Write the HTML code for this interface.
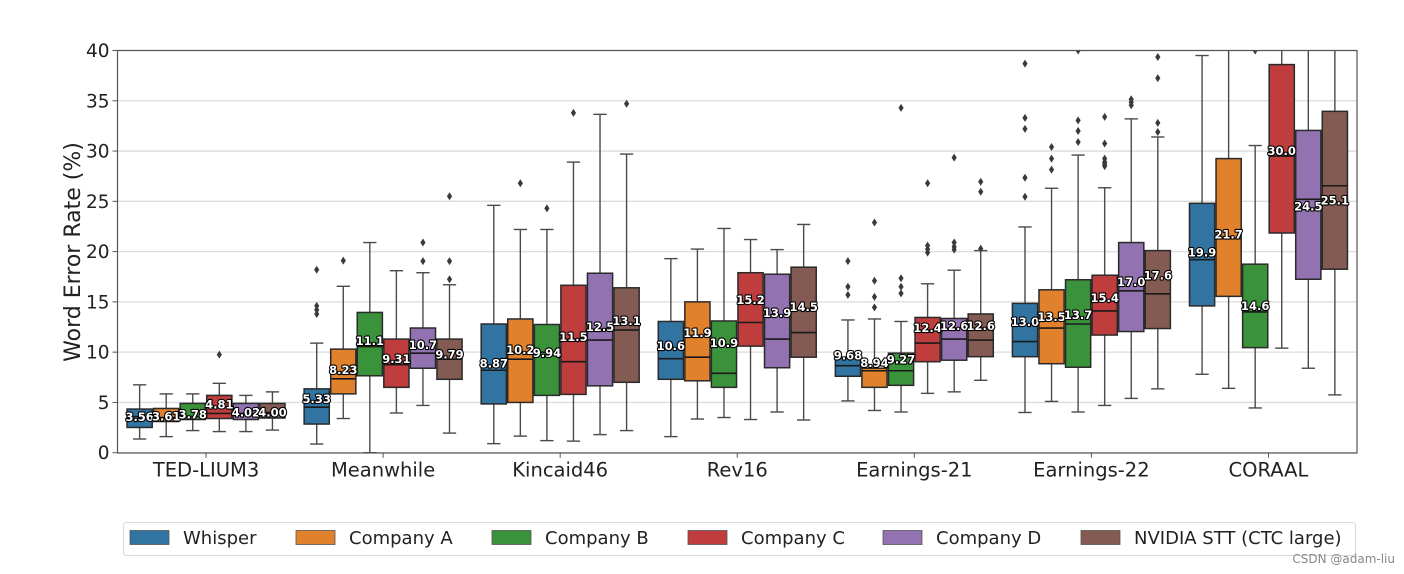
<!DOCTYPE html>
<html><head><meta charset="utf-8"><style>
html,body{margin:0;padding:0;background:#fff;}
svg{display:block;font-family:"DejaVu Sans","Liberation Sans",sans-serif;}
</style></head><body>
<svg id="chart" width="1404" height="574" viewBox="0 0 1404 574" xmlns="http://www.w3.org/2000/svg">
<defs><clipPath id="plotclip"><rect x="118" y="50.5" width="1239" height="402.5"/></clipPath></defs>
<g id="grid"></g>
<g id="boxes" clip-path="url(#plotclip)"></g>
<g id="labels"></g>
<rect x="117.5" y="50.5" width="1239.5" height="402.5" fill="none" stroke="#555" stroke-width="1.2"/>
<g id="yaxis"></g>
<g id="xaxis"></g>
<text transform="translate(80,252) rotate(-90)" text-anchor="middle" font-size="22" fill="#222">Word Error Rate (%)</text>
<g id="legend"></g>
<text x="1395" y="563" text-anchor="end" font-size="12" fill="#888">CSDN @adam-liu</text>
</svg>
<script>
const categories = ["TED-LIUM3","Meanwhile","Kincaid46","Rev16","Earnings-21","Earnings-22","CORAAL"];
const seriesNames = ["Whisper","Company A","Company B","Company C","Company D","NVIDIA STT (CTC large)"];
const colors = ["#3274a1","#e1812c","#3a923a","#c03d3e","#9372b2","#845b53"];
const yTicks = [0,5,10,15,20,25,30,35,40];
// per series: [low whisker, q1, median, q3, high whisker] for each category
const whisperStats = [[1.36,2.51,3.6,4.34,6.75],[0.86,2.85,4.53,6.35,10.9],[0.9,4.85,8.2,12.8,24.6],[1.6,7.3,9.35,13.05,19.3],[5.15,7.6,8.65,9.4,13.2],[4.0,9.55,11.05,14.85,22.45],[7.8,14.6,19.2,24.8,39.5]];
const companyAStats = [[1.6,3.1,3.5,4.4,5.85],[3.4,5.85,7.35,10.3,16.55],[1.65,5.0,9.3,13.3,22.2],[3.35,7.15,9.5,15.0,20.25],[4.2,6.5,8.15,8.4,13.3],[5.1,8.85,12.4,16.2,26.3],[6.4,15.55,21.3,29.25,45]];
const companyBStats = [[2.2,3.3,3.6,4.9,5.85],[0,7.65,10.55,13.95,20.9],[1.2,5.7,10.0,12.75,22.2],[3.5,6.5,7.9,13.1,22.3],[4.05,6.7,8.15,9.9,13.05],[4.05,8.5,12.8,17.2,29.6],[4.45,10.45,14.0,18.75,30.55]];
const companyCStats = [[2.1,3.4,3.9,5.7,6.9],[3.95,6.5,8.75,11.3,18.1],[1.15,5.8,9.05,16.65,28.9],[3.3,10.6,12.95,17.9,21.2],[5.9,9.05,10.9,13.45,16.8],[4.7,11.7,14.1,17.65,26.35],[10.4,21.85,29.5,38.6,45]];
const companyDStats = [[2.1,3.3,3.9,4.9,5.7],[4.7,8.4,9.9,12.4,17.9],[1.8,6.65,11.2,17.85,33.65],[4.05,8.45,11.3,17.75,20.2],[6.05,9.2,11.3,13.35,18.15],[5.4,12.05,16.1,20.9,33.2],[8.4,17.25,25.2,32.05,45]];
const nvidiaStats = [[2.25,3.45,4.0,4.9,6.05],[1.95,7.3,9.3,11.3,16.7],[2.2,7.0,12.2,16.4,29.7],[3.25,9.5,11.95,18.45,22.7],[7.2,9.55,11.2,13.8,20.1],[6.35,12.35,15.8,20.1,31.4],[5.75,18.25,26.55,33.95,45]];
const whisperMeans = [3.56,5.33,8.87,10.6,9.68,13.0,19.9];
const companyAMeans = [3.61,8.23,10.2,11.9,8.94,13.5,21.7];
const companyBMeans = [3.78,11.1,9.94,10.9,9.27,13.7,14.6];
const companyCMeans = [4.81,9.31,11.5,15.2,12.4,15.4,30.0];
const companyDMeans = [4.02,10.7,12.5,13.9,12.6,17.0,24.5];
const nvidiaMeans = [4.00,9.79,13.1,14.5,12.6,17.6,25.1];
const meanLabels = [["3.56","5.33","8.87","10.6","9.68","13.0","19.9"],["3.61","8.23","10.2","11.9","8.94","13.5","21.7"],["3.78","11.1","9.94","10.9","9.27","13.7","14.6"],["4.81","9.31","11.5","15.2","12.4","15.4","30.0"],["4.02","10.7","12.5","13.9","12.6","17.0","24.5"],["4.00","9.79","13.1","14.5","12.6","17.6","25.1"]];
const whisperOutliers = [[],[18.2,14.6,14.2,13.8],[],[],[19.05,16.5,15.7],[38.7,33.3,32.2,27.35,25.45],[]];
const companyAOutliers = [[],[19.1],[26.8],[],[22.9,17.1,15.5,14.45],[30.4,29.25,28.15],[]];
const companyBOutliers = [[],[],[24.3],[],[34.3,17.35,16.5,15.85],[40,33.05,32.0,30.9],[40]];
const companyCOutliers = [[9.75],[],[33.8],[],[26.8,20.6,20.25,19.9],[33.4,30.75,29.25,28.9,28.7,28.5],[]];
const companyDOutliers = [[],[20.9,19.05],[],[],[29.35,20.9,20.5,20.2],[35.15,34.85,34.55],[]];
const nvidiaOutliers = [[],[25.5,19.05,17.25],[34.7],[],[26.95,25.95,20.3],[39.35,37.25,32.8,31.9],[]];

const allStats=[whisperStats,companyAStats,companyBStats,companyCStats,companyDStats,nvidiaStats];
const allMeans=[whisperMeans,companyAMeans,companyBMeans,companyCMeans,companyDMeans,nvidiaMeans];
const allOut=[whisperOutliers,companyAOutliers,companyBOutliers,companyCOutliers,companyDOutliers,nvidiaOutliers];

const NS="http://www.w3.org/2000/svg";
const X0=117.5,X1=1357,Y0=452.7,Y1=50.5;
const yScale=v=>Y0-(v/40)*(Y0-Y1);
const groupW=(X1-X0)/categories.length;
const boxW=groupW*0.9/seriesNames.length;
const xCenter=(g,s)=>X0+groupW*(g+0.5)-groupW*0.45+boxW*(s+0.5);
function mk(tag,attrs,parent){const e=document.createElementNS(NS,tag);for(const k in attrs)e.setAttribute(k,attrs[k]);parent.appendChild(e);return e;}

const grid=document.getElementById('grid'),yax=document.getElementById('yaxis'),xax=document.getElementById('xaxis');
yTicks.forEach(t=>{
  const y=yScale(t);
  const gl=mk('line',{x1:X0,x2:X1,y1:y,y2:y,stroke:'#dcdcdc','stroke-width':1.3},grid);
  
  
  mk('line',{x1:X0-5,x2:X0,y1:y,y2:y,stroke:'#555','stroke-width':1},yax);
  const tx=mk('text',{x:X0-8,y:y+6.5,'text-anchor':'end','font-size':18.5,fill:'#222'},yax);
  tx.textContent=t;
  
  
});
categories.forEach((c,g)=>{
  const x=X0+groupW*(g+0.5);
  mk('line',{x1:x,x2:x,y1:Y0,y2:Y0+5,stroke:'#555','stroke-width':1},xax);
  const tx=mk('text',{x:x,y:Y0+24,'text-anchor':'middle','font-size':19.5,fill:'#222'},xax);
  tx.textContent=c;
  
  
});

const boxes=document.getElementById('boxes'),labels=document.getElementById('labels');
for(let s=0;s<seriesNames.length;s++){
  for(let g=0;g<categories.length;g++){
    const st=allStats[s][g];const cx=xCenter(g,s);
    const gr=mk('g',{},boxes);
    
    
    const wc='#4a4a4a';
    mk('line',{x1:cx,x2:cx,y1:yScale(st[0]),y2:yScale(st[1]),stroke:wc,'stroke-width':1.4},gr);
    mk('line',{x1:cx,x2:cx,y1:yScale(st[3]),y2:yScale(st[4]),stroke:wc,'stroke-width':1.4},gr);
    mk('line',{x1:cx-boxW/4,x2:cx+boxW/4,y1:yScale(st[0]),y2:yScale(st[0]),stroke:wc,'stroke-width':1.4},gr);
    mk('line',{x1:cx-boxW/4,x2:cx+boxW/4,y1:yScale(st[4]),y2:yScale(st[4]),stroke:wc,'stroke-width':1.4},gr);
    mk('rect',{x:cx-boxW/2+0.7,y:yScale(st[3]),width:boxW-1.4,height:yScale(st[1])-yScale(st[3]),fill:colors[s],stroke:'#2a2a2a','stroke-width':1.5},gr);
    mk('line',{x1:cx-boxW/2+0.7,x2:cx+boxW/2-0.7,y1:yScale(st[2]),y2:yScale(st[2]),stroke:'#1a1a1a','stroke-width':1.6},gr);
    allOut[s][g].forEach(v=>{
      const y=yScale(v);
      mk('path',{d:`M${cx} ${y-4}L${cx+2.6} ${y}L${cx} ${y+4}L${cx-2.6} ${y}Z`,fill:'#3a3a3a'},gr);
    });
    const ly=yScale(allMeans[s][g]);
    const tx=mk('text',{x:cx,y:ly+4,'text-anchor':'middle','font-size':11.5,'font-weight':'bold',fill:'#fff',stroke:'#000','stroke-width':2.2,'paint-order':'stroke','stroke-linejoin':'round'},labels);
    tx.textContent=meanLabels[s][g];
    
    
  }
}

const leg=document.getElementById('legend');
mk('rect',{x:123.5,y:522.5,width:1232,height:33,rx:3,fill:'#fff',stroke:'#d8d8d8','stroke-width':1},leg);
const legX=[130,296,492,688,883,1081];
seriesNames.forEach((n,i)=>{
  const gr=mk('g',{},leg);
  
  
  mk('rect',{x:legX[i],y:530.5,width:39,height:14,fill:colors[i],stroke:'#555','stroke-width':0.8},gr);
  const t=mk('text',{x:legX[i]+53,y:544,'font-size':18,fill:'#222'},gr);
  t.textContent=n;
});
</script>
</body></html>
